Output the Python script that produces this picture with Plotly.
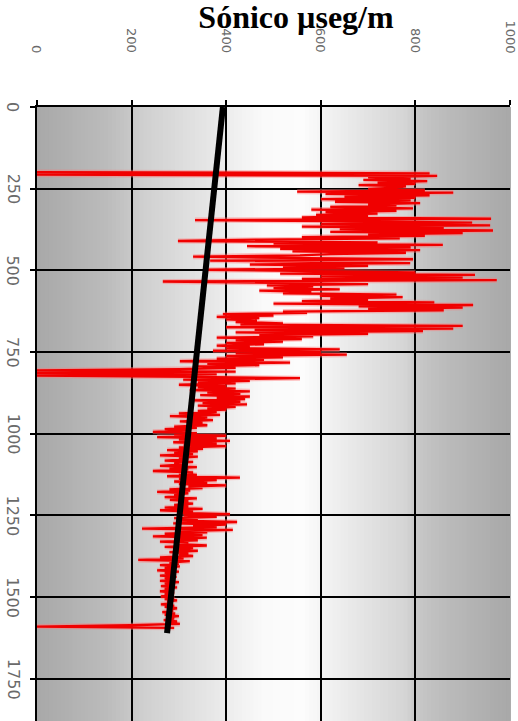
import plotly.graph_objects as go

# Sonic log: depth (m) and transit time (µs/m)
DEPTH_M = [
    199, 203, 207, 211, 215, 219, 223, 227, 231, 235,
    239, 243, 247, 251, 255, 259, 262, 266, 270, 274,
    278, 282, 286, 290, 294, 298, 302, 306, 310, 314,
    318, 322, 326, 330, 334, 338, 342, 346, 350, 354,
    358, 362, 366, 370, 374, 378, 382, 386, 390, 394,
    398, 402, 406, 410, 414, 418, 422, 426, 430, 434,
    438, 442, 446, 450, 454, 458, 462, 466, 470, 474,
    478, 482, 486, 490, 494, 498, 502, 506, 510, 514,
    518, 522, 526, 530, 534, 538, 542, 546, 550, 554,
    558, 562, 566, 570, 574, 578, 582, 586, 590, 594,
    598, 602, 606, 610, 614, 618, 622, 626, 630, 634,
    638, 642, 646, 650, 654, 658, 662, 666, 670, 674,
    678, 682, 686, 690, 694, 698, 702, 706, 710, 714,
    718, 722, 726, 730, 734, 738, 742, 746, 750, 754,
    758, 762, 766, 770, 774, 778, 782, 786, 790, 794,
    798, 802, 806, 810, 814, 818, 822, 826, 830, 834,
    838, 842, 846, 850, 854, 858, 862, 866, 870, 874,
    878, 882, 886, 890, 894, 898, 902, 906, 910, 914,
    918, 922, 926, 930, 934, 938, 942, 946, 950, 954,
    958, 962, 966, 970, 974, 978, 982, 986, 990, 994,
    998, 1002, 1006, 1010, 1014, 1018, 1022, 1026, 1030, 1034,
    1038, 1042, 1046, 1050, 1054, 1058, 1062, 1066, 1070, 1074,
    1078, 1082, 1086, 1090, 1094, 1098, 1102, 1106, 1110, 1114,
    1118, 1122, 1126, 1130, 1134, 1138, 1142, 1146, 1150, 1154,
    1158, 1162, 1166, 1170, 1174, 1178, 1182, 1186, 1190, 1194,
    1198, 1202, 1206, 1210, 1214, 1218, 1222, 1226, 1230, 1234,
    1238, 1242, 1246, 1250, 1254, 1258, 1262, 1266, 1270, 1274,
    1278, 1282, 1286, 1290, 1294, 1298, 1302, 1306, 1310, 1314,
    1318, 1322, 1326, 1330, 1334, 1338, 1342, 1346, 1350, 1354,
    1358, 1362, 1366, 1370, 1374, 1378, 1382, 1386, 1390, 1394,
    1398, 1402, 1406, 1410, 1414, 1418, 1422, 1426, 1430, 1434,
    1438, 1442, 1446, 1450, 1454, 1458, 1462, 1466, 1470, 1474,
    1478, 1482, 1486, 1490, 1494, 1498, 1502, 1506, 1510, 1514,
    1518, 1522, 1526, 1530, 1534, 1538, 1542, 1546, 1550, 1554,
    1558, 1562, 1566, 1570, 1574, 1578, 1582, 1586, 1590, 1594,
]
SONIC = [
    0, 830, 0, 846, 700, 790, 690, 825, 720, 800,
    680, 780, 760, 700, 820, 550, 880, 610, 830, 650,
    800, 600, 790, 630, 810, 700, 760, 620, 795, 580,
    760, 610, 720, 590, 700, 560, 960, 334, 700, 920,
    600, 958, 560, 860, 640, 964, 620, 900, 700, 820,
    560, 767, 470, 298, 720, 500, 858, 444, 790, 514,
    810, 540, 780, 620, 556, 330, 520, 795, 366, 600,
    789, 450, 700, 520, 650, 360, 600, 800, 514, 926,
    600, 900, 560, 972, 266, 540, 700, 486, 584, 500,
    640, 470, 580, 520, 760, 598, 773, 620, 700, 560,
    840, 500, 922, 680, 900, 700, 860, 520, 571, 393,
    500, 380, 470, 400, 465, 420, 520, 430, 900, 400,
    880, 460, 816, 420, 700, 470, 584, 380, 560, 420,
    520, 400, 480, 380, 450, 400, 640, 372, 600, 420,
    655, 400, 520, 380, 480, 302, 535, 360, 470, 340,
    420, 300, 0, 420, 0, 380, 0, 330, 556, 309,
    450, 340, 420, 300, 400, 340, 420, 323, 450, 360,
    430, 345, 450, 380, 440, 330, 430, 350, 444, 340,
    420, 360, 400, 340, 380, 300, 387, 281, 360, 320,
    372, 302, 350, 320, 360, 290, 338, 270, 320, 245,
    338, 290, 400, 254, 380, 300, 408, 288, 380, 310,
    400, 300, 351, 275, 340, 290, 330, 260, 340, 300,
    320, 270, 330, 290, 310, 260, 338, 280, 320, 245,
    330, 300, 338, 275, 429, 300, 380, 290, 360, 300,
    400, 320, 350, 280, 324, 254, 320, 290, 310, 270,
    338, 281, 320, 300, 330, 290, 320, 270, 350, 260,
    330, 300, 408, 310, 380, 290, 340, 300, 423, 288,
    400, 330, 380, 222, 414, 300, 360, 270, 350, 245,
    359, 290, 340, 260, 320, 300, 359, 270, 330, 290,
    340, 280, 320, 300, 330, 260, 310, 214, 323, 280,
    300, 260, 302, 270, 290, 254, 300, 270, 290, 260,
    295, 270, 290, 260, 300, 270, 290, 262, 296, 270,
    285, 260, 290, 270, 280, 262, 290, 270, 296, 275,
    285, 262, 290, 270, 296, 278, 288, 265, 292, 270,
    300, 275, 290, 268, 296, 280, 302, 197, 0, 290,
]

# Compaction trend line
TREND_DEPTH = [0, 1610]
TREND_SONIC = [393, 275]

# Axis ticks
X_TICKS = [0, 200, 400, 600, 800, 1000]
Y_TICKS = [0, 250, 500, 750, 1000, 1250, 1500, 1750]

X_MAX = 1000
Y_MAX = 1879

fig = go.Figure()

# soft halo under the log curve
fig.add_trace(go.Scatter(
    x=SONIC, y=DEPTH_M, mode="lines",
    line=dict(color="rgba(255,120,120,0.45)", width=5),
    hoverinfo="skip", showlegend=False,
))
fig.add_trace(go.Scatter(
    x=SONIC, y=DEPTH_M, mode="lines",
    line=dict(color="#f00000", width=2.3),
    showlegend=False, name="Sónico",
))
fig.add_trace(go.Scatter(
    x=TREND_SONIC, y=TREND_DEPTH, mode="lines",
    line=dict(color="black", width=6),
    showlegend=False, name="Tendencia",
))

# secondary x axis only carries the interior vertical grid lines
fig.add_trace(go.Scatter(x=[None], y=[None], xaxis="x2", showlegend=False,
                         hoverinfo="skip"))

# horizontal gray-white-gray background gradient
stops = [(0.00, 168), (0.15, 188), (0.20, 200), (0.23, 208), (0.40, 236),
         (0.48, 250), (0.56, 252), (0.62, 241), (0.78, 212), (0.80, 200),
         (0.86, 188), (1.00, 168)]


def gray_at(t):
    for (t0, g0), (t1, g1) in zip(stops, stops[1:]):
        if t0 <= t <= t1:
            return g0 + (g1 - g0) * (t - t0) / (t1 - t0)
    return stops[-1][1]


n_strips = 120
shapes = []
for i in range(n_strips):
    t0 = i / n_strips
    t1 = (i + 1) / n_strips
    g = int(round(gray_at((t0 + t1) / 2)))
    shapes.append(dict(
        type="rect", xref="x domain", yref="y domain",
        x0=t0, x1=t1 + 0.002, y0=0, y1=1,
        fillcolor=f"rgb({g},{g},{g})", line=dict(width=0), layer="below",
    ))

annotations = []
x_tick_font = dict(family="DejaVu Sans", size=13, color="#6a6a6a")
y_tick_font = dict(family="DejaVu Sans", size=16, color="#6a6a6a")
for v in X_TICKS:
    annotations.append(dict(
        x=v, xref="x", y=1, yref="paper", yshift=52,
        text=str(v), showarrow=False, textangle=90,
        xanchor="center", yanchor="bottom", font=x_tick_font,
    ))
for v in Y_TICKS:
    annotations.append(dict(
        x=0, xref="paper", xshift=-24, y=v, yref="y",
        text=str(v), showarrow=False, textangle=90,
        xanchor="center", yanchor="middle", font=y_tick_font,
    ))

fig.update_layout(
    width=518, height=721,
    margin=dict(l=37, r=8, t=107, b=0),
    paper_bgcolor="white", plot_bgcolor="white",
    title=dict(
        text="<b>Sónico µseg/m</b>",
        font=dict(family="Liberation Serif", size=32, color="black"),
        x=296 / 518, xref="container", xanchor="center",
        y=1 - 17 / 721, yref="container", yanchor="middle",
    ),
    xaxis=dict(
        range=[0, X_MAX], side="top", tickvals=X_TICKS, showticklabels=False,
        ticks="outside", ticklen=5, tickwidth=2, tickcolor="black",
        showline=True, linecolor="black", linewidth=2, mirror=False,
        showgrid=False, zeroline=False,
    ),
    xaxis2=dict(
        range=[0, X_MAX], overlaying="x", side="top",
        tickvals=[200, 400, 600, 800], showticklabels=False, ticks="",
        showgrid=True, gridcolor="black", gridwidth=2, zeroline=False,
        showline=False,
    ),
    yaxis=dict(
        range=[Y_MAX, 0], tickvals=Y_TICKS, showticklabels=False,
        ticks="outside", ticklen=5, tickwidth=2, tickcolor="black",
        showline=True, linecolor="black", linewidth=2,
        showgrid=True, gridcolor="black", gridwidth=2, zeroline=False,
    ),
    shapes=shapes,
    annotations=annotations,
    showlegend=False,
)

fig.write_html("out.html")
